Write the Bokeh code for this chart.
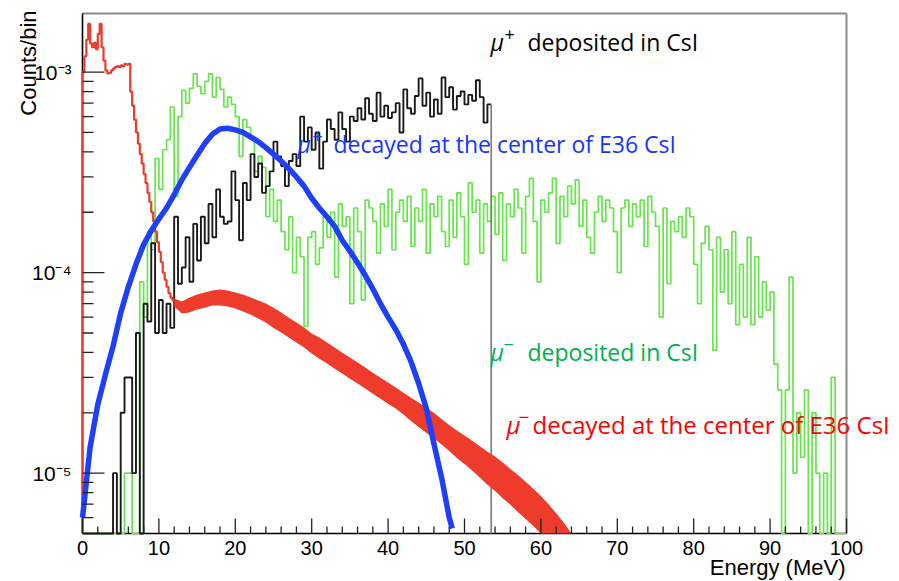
import math
import numpy as np
from bokeh.plotting import figure
from bokeh.models import Range1d, Label
from bokeh.core.properties import value
from bokeh.embed import file_html
from bokeh.resources import INLINE

# ---------------------------------------------------------------- data
X_LO, X_HI = 0.0, 100.0
Y_LO, Y_HI = 5e-6, 1.96e-3

# mu- decayed at the centre of E36 CsI: low-energy part, 0.25 MeV bins from 0 MeV
red_low_start, red_low_width = 0.0, 0.25
red_low = [
    1.0e-3, 1.2e-3, 1.45e-3, 1.74e-3, 1.39e-3, 1.33e-3, 1.40e-3, 1.30e-3,
    1.55e-3, 1.74e-3, 1.33e-3, 1.14e-3, 1.02e-3, 9.85e-4, 9.9e-4, 1.02e-3,
    1.04e-3, 1.06e-3, 1.07e-3, 1.06e-3, 1.08e-3, 1.07e-3, 1.10e-3, 1.09e-3,
    1.10e-3, 8.0e-4, 6.8e-4, 5.8e-4, 5.0e-4, 4.4e-4, 3.9e-4, 3.5e-4,
    3.1e-4, 2.8e-4, 2.5e-4, 2.25e-4, 2.0e-4, 1.8e-4, 1.6e-4, 1.42e-4,
    1.27e-4, 1.13e-4, 1.0e-4, 9.2e-5, 8.5e-5, 7.9e-5, 7.5e-5, 7.3e-5,
]
# same spectrum above 12 MeV: spread of the bin contents (upper / lower edge), 1 MeV steps
red_band_e = list(range(12, 65))
red_band_hi = [
    7.43e-5, 7.18e-5, 7.52e-5, 7.78e-5, 7.97e-5, 8.15e-5, 8.24e-5, 8.15e-5,
    7.97e-5, 7.78e-5, 7.52e-5, 7.26e-5, 7.01e-5, 6.69e-5, 6.33e-5, 5.96e-5,
    5.64e-5, 5.33e-5, 4.97e-5, 4.75e-5, 4.48e-5, 4.23e-5, 3.99e-5, 3.77e-5,
    3.56e-5, 3.36e-5, 3.17e-5, 2.99e-5, 2.83e-5, 2.67e-5, 2.52e-5, 2.38e-5,
    2.25e-5, 2.12e-5, 2.0e-5, 1.86e-5, 1.74e-5, 1.63e-5, 1.54e-5, 1.45e-5,
    1.36e-5, 1.28e-5, 1.21e-5, 1.13e-5, 1.05e-5, 9.8e-6, 9.05e-6, 8.35e-6,
    7.7e-6, 7.0e-6, 6.3e-6, 5.65e-6, 5.0e-6,
]
red_band_lo = [
    6.77e-5, 6.25e-5, 6.33e-5, 6.55e-5, 6.69e-5, 6.85e-5, 6.85e-5, 6.77e-5,
    6.62e-5, 6.40e-5, 6.18e-5, 5.90e-5, 5.64e-5, 5.30e-5, 5.03e-5, 4.75e-5,
    4.48e-5, 4.23e-5, 3.95e-5, 3.72e-5, 3.52e-5, 3.32e-5, 3.14e-5, 2.96e-5,
    2.80e-5, 2.64e-5, 2.49e-5, 2.35e-5, 2.22e-5, 2.10e-5, 1.96e-5, 1.82e-5,
    1.70e-5, 1.59e-5, 1.49e-5, 1.39e-5, 1.29e-5, 1.19e-5, 1.11e-5, 1.03e-5,
    9.5e-6, 8.75e-6, 8.15e-6, 7.5e-6, 6.95e-6, 6.4e-6, 5.9e-6, 5.45e-6,
    5.0e-6, 5.0e-6, 5.0e-6, 5.0e-6, 5.0e-6,
]

# mu+ decayed at the centre of E36 CsI
blue_e = list(range(0, 49)) + [48.4]
blue_val = [
    6.0e-6, 1.35e-5, 2.2e-5, 3.1e-5, 4.3e-5, 6.3e-5, 8.5e-5, 1.1e-4,
    1.38e-4, 1.62e-4, 1.85e-4, 2.1e-4, 2.45e-4, 2.9e-4, 3.35e-4, 3.85e-4,
    4.4e-4, 4.9e-4, 5.2e-4, 5.25e-4, 5.15e-4, 5.0e-4, 4.75e-4, 4.5e-4,
    4.2e-4, 3.9e-4, 3.6e-4, 3.3e-4, 3.0e-4, 2.7e-4, 2.35e-4, 2.1e-4,
    1.9e-4, 1.7e-4, 1.45e-4, 1.28e-4, 1.12e-4, 9.7e-5, 8.3e-5, 7.0e-5,
    6.0e-5, 5.2e-5, 4.4e-5, 3.6e-5, 2.8e-5, 2.1e-5, 1.4e-5, 9.5e-6,
    6.0e-6, 5.3e-6,
]

# mu+ deposited in CsI, 0.5 MeV bins from 0 MeV (0 = empty bin)
black_start, black_width = 0.0, 0.5
black_val = [
    0, 0, 0, 0, 0, 0, 0,
    0, 1.0e-5, 0, 2.0e-5, 3.0e-5, 3.0e-5, 1.0e-5, 5.0e-5, 0,
    7.0e-5, 5.7e-5, 1.4e-4, 5.0e-5, 7.3e-5, 5.0e-5, 7.0e-5, 5.3e-5,
    1.9e-4, 8.8e-5, 1.06e-4, 1.5e-4, 9.0e-5, 1.75e-4, 1.15e-4, 1.9e-4,
    1.4e-4, 2.2e-4, 1.5e-4, 2.6e-4, 1.9e-4, 1.75e-4, 1.8e-4, 3.2e-4,
    2.3e-4, 1.45e-4, 2.8e-4, 2.3e-4, 3.9e-4, 3.0e-4, 3.5e-4, 2.5e-4,
    2.7e-4, 3.2e-4, 4.5e-4, 3.8e-4, 3.4e-4, 2.7e-4, 3.6e-4, 3.9e-4,
    3.4e-4, 6.0e-4, 4.5e-4, 5.3e-4, 4.1e-4, 5.0e-4, 3.3e-4, 4.5e-4,
    5.8e-4, 5.2e-4, 4.6e-4, 6.3e-4, 5.2e-4, 4.5e-4, 6.0e-4, 5.7e-4,
    6.6e-4, 5.8e-4, 7.4e-4, 6.2e-4, 5.7e-4, 7.9e-4, 6.0e-4, 6.8e-4,
    5.9e-4, 6.3e-4, 7.0e-4, 5.0e-4, 8.2e-4, 6.6e-4, 6.2e-4, 7.6e-4,
    9.3e-4, 6.8e-4, 7.9e-4, 6.0e-4, 7.3e-4, 6.2e-4, 9.4e-4, 7.5e-4,
    8.4e-4, 6.5e-4, 7.6e-4, 8.0e-4, 6.9e-4, 7.7e-4, 7.2e-4, 9.1e-4,
    7.5e-4, 5.6e-4, 6.9e-4,
]

# mu- deposited in CsI, 0.5 MeV bins from 0 MeV (0 = empty bin)
green_start, green_width = 0.0, 0.5
green_val = [
    0, 0, 0, 0, 0, 0, 0, 0, 0, 0, 0,
    1.0e-5, 1.0e-5, 0, 0, 9.0e-5, 6.0e-5, 1.6e-4, 1.3e-4, 3.7e-4, 2.6e-4,
    4.1e-4, 4.6e-4, 6.7e-4, 2.4e-4, 6.0e-4, 8.1e-4, 7.0e-4, 8.3e-4, 9.8e-4,
    8.5e-4, 7.8e-4, 9.0e-4, 9.8e-4, 7.5e-4, 9.4e-4, 8.2e-4, 6.7e-4, 7.5e-4,
    6.9e-4, 6.0e-4, 3.8e-4, 5.8e-4, 5.3e-4, 4.7e-4, 3.2e-4, 3.8e-4, 3.35e-4,
    1.9e-4, 2.6e-4, 1.8e-4, 2.3e-4, 1.6e-4, 1.3e-4, 1.9e-4, 1.0e-4, 1.5e-4,
    1.2e-4, 5.4e-5, 1.5e-4, 1.6e-4, 1.1e-4, 1.33e-4, 1.9e-4, 1.5e-4, 2.0e-4,
    9.5e-5, 2.2e-4, 1.7e-4, 1.9e-4, 7.0e-5, 2.1e-4, 1.6e-4, 7.3e-5, 2.3e-4,
    2.1e-4, 1.8e-4, 1.25e-4, 2.2e-4, 1.7e-4, 2.6e-4, 1.3e-4, 2.0e-4, 2.3e-4,
    1.8e-4, 2.4e-4, 1.35e-4, 2.1e-4, 1.8e-4, 2.6e-4, 1.25e-4, 2.2e-4, 1.9e-4,
    2.4e-4, 1.6e-4, 1.35e-4, 2.3e-4, 1.5e-4, 2.5e-4, 1.9e-4, 1.1e-4, 2.8e-4,
    2.0e-4, 2.3e-4, 1.25e-4, 2.2e-4, 1.8e-4, 2.4e-4, 1.55e-4, 2.5e-4, 1.15e-4,
    2.2e-4, 1.9e-4, 2.6e-4, 2.1e-4, 1.25e-4, 2.4e-4, 2.95e-4, 1.8e-4, 9.0e-5,
    2.3e-4, 2.0e-4, 2.5e-4, 2.95e-4, 1.4e-4, 2.4e-4, 1.9e-4, 2.7e-4, 2.2e-4,
    2.9e-4, 1.7e-4, 2.3e-4, 1.5e-4, 1.25e-4, 2.0e-4, 2.4e-4, 1.8e-4, 2.3e-4,
    2.1e-4, 1.6e-4, 1.0e-4, 2.1e-4, 2.3e-4, 1.7e-4, 2.2e-4, 1.9e-4, 2.3e-4,
    1.35e-4, 2.4e-4, 2.0e-4, 1.7e-4, 6.0e-5, 2.1e-4, 8.8e-5, 1.8e-4, 1.6e-4,
    1.9e-4, 1.5e-4, 2.1e-4, 1.9e-4, 1.1e-4, 7.0e-5, 1.4e-4, 1.7e-4, 1.3e-4,
    4.1e-5, 1.5e-4, 8.0e-5, 1.3e-4, 7.0e-5, 1.6e-4, 5.5e-5, 1.1e-4, 6.0e-5,
    1.5e-4, 5.5e-5, 1.2e-4, 6.0e-5, 9.0e-5, 6.5e-5, 8.0e-5, 3.5e-5, 2.6e-5,
    0, 2.6e-5, 9.5e-5, 1.0e-5, 2.0e-5, 1.2e-5, 2.6e-5, 0, 2.0e-5,
    1.0e-5, 0, 1.0e-5, 0, 3.0e-5, 0, 0, 0,
]

x_major = list(range(0, 101, 10))
x_minor = [t for t in range(0, 101, 2) if t % 10]
y_major = [1e-5, 1e-4, 1e-3]
y_minor = [m * 10.0 ** k for k in (-6, -5, -4, -3) for m in range(2, 10)]
y_minor = [t for t in y_minor if Y_LO <= t <= Y_HI]

# ---------------------------------------------------------------- layout
W, H = 899, 581
FRAME_L, FRAME_R, FRAME_T, FRAME_B = 82, 846, 13, 533

x_per_px = (X_HI - X_LO) / (FRAME_R - FRAME_L)
dec_per_px = math.log10(Y_HI / Y_LO) / (FRAME_B - FRAME_T)
x_start = X_LO - FRAME_L * x_per_px
x_end = X_HI + (W - FRAME_R) * x_per_px
y_start = 10 ** (math.log10(Y_LO) - (H - FRAME_B) * dec_per_px)
y_end = 10 ** (math.log10(Y_HI) + FRAME_T * dec_per_px)


def up(y, px):
    """y value lying px pixels above y on the log axis."""
    return y * 10 ** (px * dec_per_px)


def stairs(start, width, vals, floor):
    """Outline of a histogram, empty bins sitting on the lower edge of the frame."""
    v = np.maximum(np.asarray(vals, dtype=float), floor)
    edges = start + width * np.arange(len(v) + 1)
    xs = np.concatenate([[edges[0]], np.repeat(edges, 2)[1:-1], [edges[-1]]])
    ys = np.concatenate([[floor], np.repeat(v, 2), [floor]])
    return xs, ys


# the canvas is one big frame; the ROOT-style box and axes are drawn inside it
p = figure(
    width=W, height=H, min_border=0,
    x_range=Range1d(x_start, x_end), y_range=Range1d(y_start, y_end), y_axis_type="log",
    x_axis_location=None, y_axis_location=None,
    output_backend="svg", toolbar_location=None,
    background_fill_color="white", border_fill_color="white",
)
p.outline_line_color = None
p.grid.visible = False

# box: grey top / right, black axes
p.segment(x0=[X_LO], y0=[Y_HI], x1=[X_HI], y1=[Y_HI], line_color="#8a8a8a", line_width=2)
p.segment(x0=[X_HI], y0=[Y_LO], x1=[X_HI], y1=[Y_HI], line_color="#8a8a8a", line_width=2)
p.segment(x0=[X_LO], y0=[Y_LO], x1=[X_HI], y1=[Y_LO], line_color="black", line_width=1.6)
p.segment(x0=[X_LO], y0=[Y_LO], x1=[X_LO], y1=[Y_HI], line_color="black", line_width=1.6)

GREEN, BLACK, RED, BLUE = "#66e64a", "#1a1a1a", "#ef3b2c", "#1f3fff"

gx, gy = stairs(green_start, green_width, green_val, Y_LO)
p.line(gx, gy, line_color=GREEN, line_width=1.7)

# black spectrum: the closing drop of the last bin is a lone thin line
kx, ky = stairs(black_start, black_width, black_val, Y_LO)
p.line(kx[:-1], ky[:-1], line_color=BLACK, line_width=1.9)
p.segment(x0=[kx[-1]], y0=[ky[-2]], x1=[kx[-1]], y1=[ky[-1]], line_color="#7a7a7a", line_width=1.6)

rx, ry = stairs(red_low_start, red_low_width, red_low, Y_LO)
p.line(rx[:-1], ry[:-1], line_color=RED, line_width=2.2)
p.varea(x=red_band_e, y1=red_band_lo, y2=red_band_hi, fill_color=RED)

p.line(blue_e, blue_val, line_color=BLUE, line_width=5.5, line_join="round")

# ticks pointing into the box
TICK = "#222222"
p.segment(x0=x_major, y0=[Y_LO] * len(x_major), x1=x_major, y1=[up(Y_LO, 15)] * len(x_major),
          line_color=TICK, line_width=1.3)
p.segment(x0=x_minor, y0=[Y_LO] * len(x_minor), x1=x_minor, y1=[up(Y_LO, 7)] * len(x_minor),
          line_color=TICK, line_width=1.3)
p.segment(x0=[X_LO] * len(y_major), y0=y_major, x1=[X_LO + 22 * x_per_px] * len(y_major), y1=y_major,
          line_color=TICK, line_width=1.3)
p.segment(x0=[X_LO] * len(y_minor), y0=y_minor, x1=[X_LO + 11 * x_per_px] * len(y_minor), y1=y_minor,
          line_color=TICK, line_width=1.3)

AX_FONT = value("Liberation Sans")
SUP = str.maketrans("-0123456789", "\u207b\u2070\u00b9\u00b2\u00b3\u2074\u2075\u2076\u2077\u2078\u2079")
p.text(x=x_major, y=[Y_LO] * len(x_major), text=[str(t) for t in x_major], y_offset=7,
       text_align="center", text_baseline="top", text_font=AX_FONT,
       text_font_size=value("20px"), text_color="black")
p.text(x=[X_LO] * len(y_major), y=y_major,
       text=["10" + str(round(math.log10(t))).translate(SUP) for t in y_major], x_offset=-11,
       text_align="right", text_baseline="middle", text_font=AX_FONT,
       text_font_size=value("21px"), text_color="black")


def screen_label(px, py, text, **kw):
    p.add_layout(Label(x=px, y=H - py, x_units="screen", y_units="screen", text=text, **kw))


screen_label(28, 10, "Counts/bin", angle=math.pi / 2, text_align="right", text_baseline="middle",
             text_font="Liberation Sans", text_font_size="22px", text_color="black")
screen_label(845, 567, "Energy (MeV)", text_align="right", text_baseline="alphabetic",
             text_font="Liberation Sans", text_font_size="22px", text_color="black")

# curve captions: italic mu, raised charge sign, then the description
TXT_FONT = "Open Sans"


def caption(x_mu, x_sign, x_text, base, sign, text, color, size):
    screen_label(x_mu, base, "\u03bc", text_font=TXT_FONT, text_font_style="italic",
                 text_font_size=f"{size}px", text_color=color, text_baseline="alphabetic")
    screen_label(x_sign, base - round(0.3 * size), sign, text_font=TXT_FONT,
                 text_font_size=f"{round(0.8 * size)}px", text_color=color,
                 text_baseline="alphabetic")
    screen_label(x_text, base, text, text_font=TXT_FONT, text_font_size=f"{size}px",
                 text_color=color, text_baseline="alphabetic")


caption(490, 504, 527, 41, "+", "deposited in CsI", "#000000", 23)
caption(297, 312, 333, 143, "+", "decayed at the center of E36 CsI", "#1436ff", 23)
caption(490, 503, 527, 351, "\u2212", "deposited in CsI", "#00b050", 23)
caption(506, 518, 532, 424, "\u2212", "decayed at the center of  E36 CsI", "#ff0000", 24)

open("out.html", "w").write(file_html(p, INLINE))
